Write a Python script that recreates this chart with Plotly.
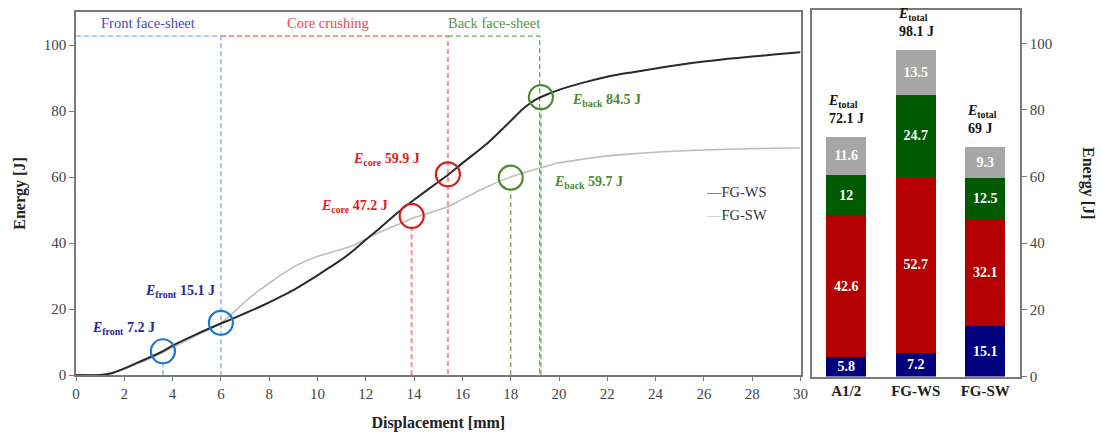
import plotly.graph_objects as go

# ---------------- data ----------------
disp = [0, 1, 1.5, 2, 2.5, 3, 3.6, 4, 5, 6, 6.5, 7, 7.5, 8, 8.5, 9, 9.5, 10, 10.5, 11, 11.5, 12,
        12.5, 13, 13.5, 14, 15, 15.4, 16, 17, 18, 18.5, 19, 19.5, 20, 21, 22, 23, 24, 25, 26, 27, 28, 29, 30]
fg_ws = [0, 0, 0.6, 2.0, 3.6, 5.2, 7.2, 8.9, 12.4, 15.6, 17.1, 18.7, 20.3, 22.0, 23.8, 25.7, 27.9, 30.2, 32.6, 35.0,
         37.8, 41.0, 44.0, 47.2, 50.3, 53.1, 58.5, 60.6, 64.2, 70.0, 77.0, 80.6, 83.3, 85.0, 86.4, 88.6, 90.4, 91.7,
         92.9, 94.0, 95.0, 95.8, 96.5, 97.2, 97.8]
fg_sw = [0, 0, 0.5, 1.8, 3.3, 4.8, 6.9, 8.3, 12.0, 15.8, 18.8, 22.2, 25.2, 27.8, 30.4, 32.7, 34.5, 35.9, 37.0, 38.1,
         39.3, 41.2, 43.0, 44.6, 46.1, 47.7, 50.0, 51.0, 53.3, 57.0, 60.0, 61.2, 62.3, 63.3, 64.3, 65.4, 66.4, 67.0,
         67.5, 67.9, 68.2, 68.4, 68.6, 68.7, 68.8]

stage_names = ["Front face-sheet", "Core crushing", "Back face-sheet"]
stage_start = [0.0, 6.0, 15.4]
stage_end = [6.0, 15.4, 19.2]
guide_level = 102.7

# marked transition points (x, energy) and labels
mark_x = [3.6, 6.0, 13.9, 15.4, 18.0, 19.25]
mark_y = [7.2, 15.8, 48.2, 60.8, 59.8, 84.2]
mark_stage = [0, 0, 1, 1, 2, 2]
mark_sub = ["front", "front", "core", "core", "back", "back"]
mark_val = ["7.2", "15.1", "47.2", "59.9", "59.7", "84.5"]

samples = ["A1/2", "FG-WS", "FG-SW"]
e_front = [5.8, 7.2, 15.1]
e_core = [42.6, 52.7, 32.1]
e_back = [12, 24.7, 12.5]
e_rest = [11.6, 13.5, 9.3]
e_total = ["72.1", "98.1", "69"]

x_ticks = list(range(0, 31, 2))
y_ticks = list(range(0, 101, 20))

# ---------------- style ----------------
FONT = "Liberation Serif"
stage_text_col = ["#4848b8", "#e84c4c", "#5a9146"]
stage_dash_col = ["#7ea8e6", "#f39a9a", "#76a35c"]
stage_dash_w = [1.3, 2.2, 1.3]
circle_col = ["#1a78d2", "#d41e1e", "#4f8c2e"]
label_col = ["#26269e", "#e01c1c", "#4a8a36"]
bar_cols = ["#00007e", "#b40000", "#005a00", "#a6a6a6"]

W, H = 1101, 437
L_px, R_px, T_px, B_px = 76, 800.5, 12, 375
L2_px, R2_px, T2_px, B2_px = 811.5, 1020, 10, 376.5

fig = go.Figure()

# stage guide lines
for i in range(3):
    xs = [stage_start[i], stage_end[i], stage_end[i]]
    ys = [guide_level, guide_level, 0]
    fig.add_trace(go.Scatter(x=xs, y=ys, mode="lines", showlegend=False, hoverinfo="skip",
                             line=dict(color=stage_dash_col[i], width=stage_dash_w[i], dash="5px,3px")))

# short guides below marks not on stage boundaries
for mx, my, st in zip(mark_x, mark_y, mark_stage):
    if mx not in stage_end:
        fig.add_trace(go.Scatter(x=[mx, mx], y=[-2.5, my - 3.8], mode="lines", showlegend=False,
                                 hoverinfo="skip", cliponaxis=False,
                                 line=dict(color=stage_dash_col[st], width=stage_dash_w[st], dash="5px,3px")))

# curves
fig.add_trace(go.Scatter(x=disp, y=fg_sw, mode="lines", name="FG-SW", line=dict(color="#bdbdbd", width=1.6,
                         shape="spline", smoothing=0.6), showlegend=False))
fig.add_trace(go.Scatter(x=disp, y=fg_ws, mode="lines", name="FG-WS", line=dict(color="#2a2a2a", width=2,
                         shape="spline", smoothing=0.6), showlegend=False))

# circles
fig.add_trace(go.Scatter(x=mark_x, y=mark_y, mode="markers", showlegend=False, hoverinfo="skip",
                         marker=dict(symbol="circle-open", size=24,
                                     color=[circle_col[s] for s in mark_stage],
                                     line=dict(width=2.2, color=[circle_col[s] for s in mark_stage]))))

# stacked bars
bar_x = [0, 1, 2]
for vals, col, nm in zip([e_front, e_core, e_back, e_rest], bar_cols, ["front", "core", "back", "rest"]):
    fig.add_trace(go.Bar(x=bar_x, y=vals, xaxis="x2", yaxis="y2", width=0.58, name=nm, showlegend=False,
                         marker=dict(color=col, line=dict(width=0)),
                         text=[f"<b>{v}</b>" for v in vals], textposition="inside",
                         insidetextanchor="middle", textangle=0,
                         textfont=dict(family=FONT, size=14, color="white")))

annotations = []
# stage titles
for i in range(3):
    annotations.append(dict(x=(stage_start[i] + stage_end[i]) / 2 - (0.25 if i == 1 else 0), y=106.8,
                            xref="x", yref="y", text=stage_names[i], showarrow=False,
                            font=dict(family=FONT, size=14.5, color=stage_text_col[i]), yanchor="middle"))

# mark labels
label_pos = [(3.36, 14.2, "right"), (5.84, 25.3, "right"), (13.0, 51.0, "right"),
             (14.34, 65.2, "right"), (19.7, 58.3, "left"), (20.45, 83.2, "left")]
for (lx, ly, anc), sub, val, st in zip(label_pos, mark_sub, mark_val, mark_stage):
    annotations.append(dict(x=lx, y=ly, xref="x", yref="y", xanchor=anc, yanchor="middle", showarrow=False,
                            text=f"<b><i>E</i><sub>{sub}</sub> {val} J</b>",
                            font=dict(family=FONT, size=14, color=label_col[st])))

# legend (manual)
annotations.append(dict(x=26.0, y=55.5, xref="x", yref="y", xanchor="left", showarrow=False,
                        text="<span style='color:#2a2a2a'>—</span>FG-WS",
                        font=dict(family=FONT, size=14.5, color="#333333")))
annotations.append(dict(x=26.0, y=48.6, xref="x", yref="y", xanchor="left", showarrow=False,
                        text="<span style='color:#bdbdbd'>—</span>FG-SW",
                        font=dict(family=FONT, size=14.5, color="#333333")))

# totals above bars
for i, tot in enumerate(e_total):
    s = e_front[i] + e_core[i] + e_back[i] + e_rest[i]
    annotations.append(dict(x=bar_x[i] - 0.29, y=s, xref="x2", yref="y2", xanchor="left", yanchor="bottom",
                            yshift=9, align="left", showarrow=False,
                            text=f"<b><i>E</i><sub>total</sub><br>{tot} J</b>",
                            font=dict(family=FONT, size=14, color="#111111")))

# right axis title
annotations.append(dict(x=1099 / W, y=1 - 183 / H, xref="paper", yref="paper", textangle=90, showarrow=False,
                        text="<b>Energy [J]</b>", font=dict(family=FONT, size=16, color="#222222")))

axis_common = dict(showgrid=False, zeroline=False, showline=True, linecolor="#7a7a7a", linewidth=1.5,
                   mirror=True, automargin=False, tickfont=dict(family=FONT, size=15, color="#444444"))

fig.update_layout(
    width=W, height=H, margin=dict(l=0, r=0, t=0, b=0, autoexpand=False),
    paper_bgcolor="white", plot_bgcolor="white",
    font=dict(family=FONT),
    barmode="stack",
    uniformtext=dict(minsize=13, mode="show"),
    xaxis=dict(domain=[L_px / W, R_px / W], range=[0, 30], tickvals=x_ticks, ticks="outside", ticklen=4,
               tickcolor="#7a7a7a", anchor="y",
               title=dict(text="<b>Displacement [mm]</b>", font=dict(family=FONT, size=16, color="#222222"),
                          standoff=16), **axis_common),
    yaxis=dict(domain=[1 - B_px / H, 1 - T_px / H], range=[0, 110], tickvals=y_ticks, ticks="outside",
               ticklen=5, tickcolor="#7a7a7a", anchor="x",
               title=dict(text="<b>Energy [J]</b>", font=dict(family=FONT, size=16, color="#222222"),
                          standoff=14), **axis_common),
    xaxis2=dict(domain=[L2_px / W, R2_px / W], range=[-0.5, 2.5], tickvals=bar_x,
                ticktext=[f"<b>{s}</b>" for s in samples], ticks="", anchor="y2",
                **{**axis_common, "tickfont": dict(family=FONT, size=15, color="#222222")}),
    yaxis2=dict(domain=[1 - B2_px / H, 1 - T2_px / H], range=[0, 110], tickvals=y_ticks, side="right",
                ticks="outside", ticklen=5, tickcolor="#7a7a7a", anchor="x2", **axis_common),
    annotations=annotations,
)

fig.write_html("out.html", config={"displayModeBar": False},
               post_script="document.body.style.margin='0';document.body.style.overflow='hidden';")
